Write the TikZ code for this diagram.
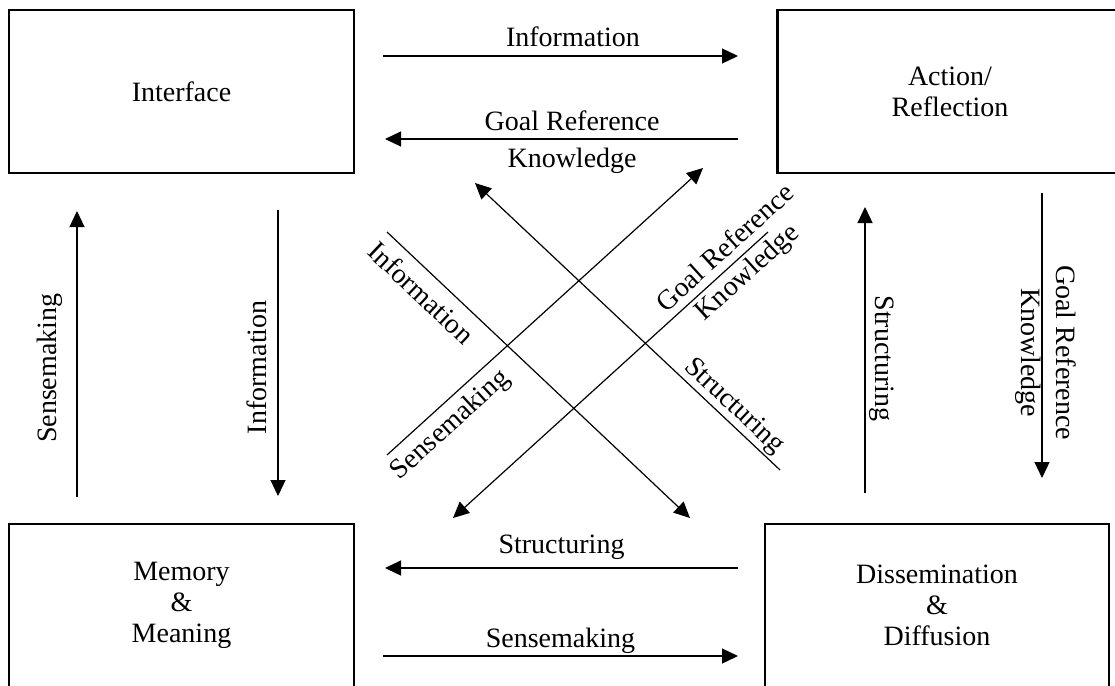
\documentclass[tikz,border=0pt]{standalone}
\usepackage{fontspec}
\setmainfont{Liberation Serif}
\usetikzlibrary{arrows.meta}

\tikzset{
  box/.style={draw, line width=2.5pt, minimum width=345pt, minimum height=163pt, align=center, font=\fontsize{28}{31}\selectfont},
  flow/.style={-{Triangle[length=16pt,width=15pt]}, line width=1.2pt},
  flowback/.style={{Triangle[length=16pt,width=15pt]}-, line width=1.2pt},
  lbl/.style={font=\fontsize{28}{31}\selectfont, inner sep=#1},
  lbl/.default=8pt
}

\begin{document}
\begin{tikzpicture}[x=1pt, y=-1pt]
\useasboundingbox (0,0) rectangle (1115,685);

% the four boxes
\node[box](iface) at (181.5,91.5) {Interface};
\node[box](action) at (950,91.5) {Action/\\Reflection};
\node[box](memory) at (181.5,605.5) {Memory\\\&\\Meaning};
\node[box, minimum width=344pt](dissem) at (937,605.5) {Dissemination\\\&\\Diffusion};

% ends of the arrows
\coordinate (t1a) at (383,56);   \coordinate (t1b) at (738,56);
\coordinate (t2a) at (385,139);  \coordinate (t2b) at (738,139);
\coordinate (b1a) at (738,568);  \coordinate (b1b) at (385,568);
\coordinate (b2a) at (383,656);  \coordinate (b2b) at (738,656);
\coordinate (l1a) at (77,497);   \coordinate (l1b) at (77,211);
\coordinate (l2a) at (278,210);  \coordinate (l2b) at (278,496);
\coordinate (r1a) at (865,207);  \coordinate (r1b) at (865,493);
\coordinate (r2a) at (1042,193); \coordinate (r2b) at (1042,478);
\coordinate (d1a) at (387,232);  \coordinate (d1b) at (690,518);
\coordinate (d2a) at (387,455);  \coordinate (d2b) at (703,168);
\coordinate (d3a) at (475,183);  \coordinate (d3b) at (780,470);
\coordinate (d4a) at (453,518);  \coordinate (d4b) at (768,232);

% top and bottom
\draw[flow] (t1a) -- (t1b) node[lbl=9pt, above, pos=0.535](infoTop) {Information};
\draw[flow] (t2b) -- (t2a) node[lbl, above, pos=0.47](goalTop) {Goal Reference}
  node[lbl, below, pos=0.47](knowTop) {Knowledge};
\draw[flow] (b1a) -- (b1b) node[lbl, above, midway](structBot) {Structuring};
\draw[flow] (b2a) -- (b2b) node[lbl=2pt, above, midway](senseBot) {Sensemaking};

% left and right
\draw[flow] (l1a) -- (l1b) node[lbl=14pt, sloped, above, pos=0.45](senseLeft) {Sensemaking};
\draw[flowback] (l2b) -- (l2a) node[lbl=11pt, sloped, above, pos=0.45](infoLeft) {Information};
\draw[flowback] (r1a) -- (r1b) node[lbl=4pt, sloped, above, pos=0.53](structRight) {Structuring};
\draw[flow] (r2a) -- (r2b) node[lbl=14pt, sloped, above, pos=0.56](goalRight) {Goal Reference}
  node[lbl=0pt, sloped, below, pos=0.56](knowRight) {Knowledge};

% diagonals
\draw[flow] (d1a) -- (d1b) node[lbl=10pt, sloped, below, pos=0.16](infoDiag) {Information};
\draw[flow] (d2a) -- (d2b) node[lbl=7.5pt, sloped, below, pos=0.157](senseDiag) {Sensemaking};
\draw[flowback] (d3a) -- (d3b) node[lbl=1.5pt, sloped, above, pos=0.816](structDiag) {Structuring};
\draw[flowback] (d4a) -- (d4b) node[lbl=7.5pt, sloped, above, pos=0.9](goalDiag) {Goal Reference}
  node[lbl=4pt, sloped, below, pos=0.9](knowDiag) {Knowledge};
\end{tikzpicture}
\end{document}
